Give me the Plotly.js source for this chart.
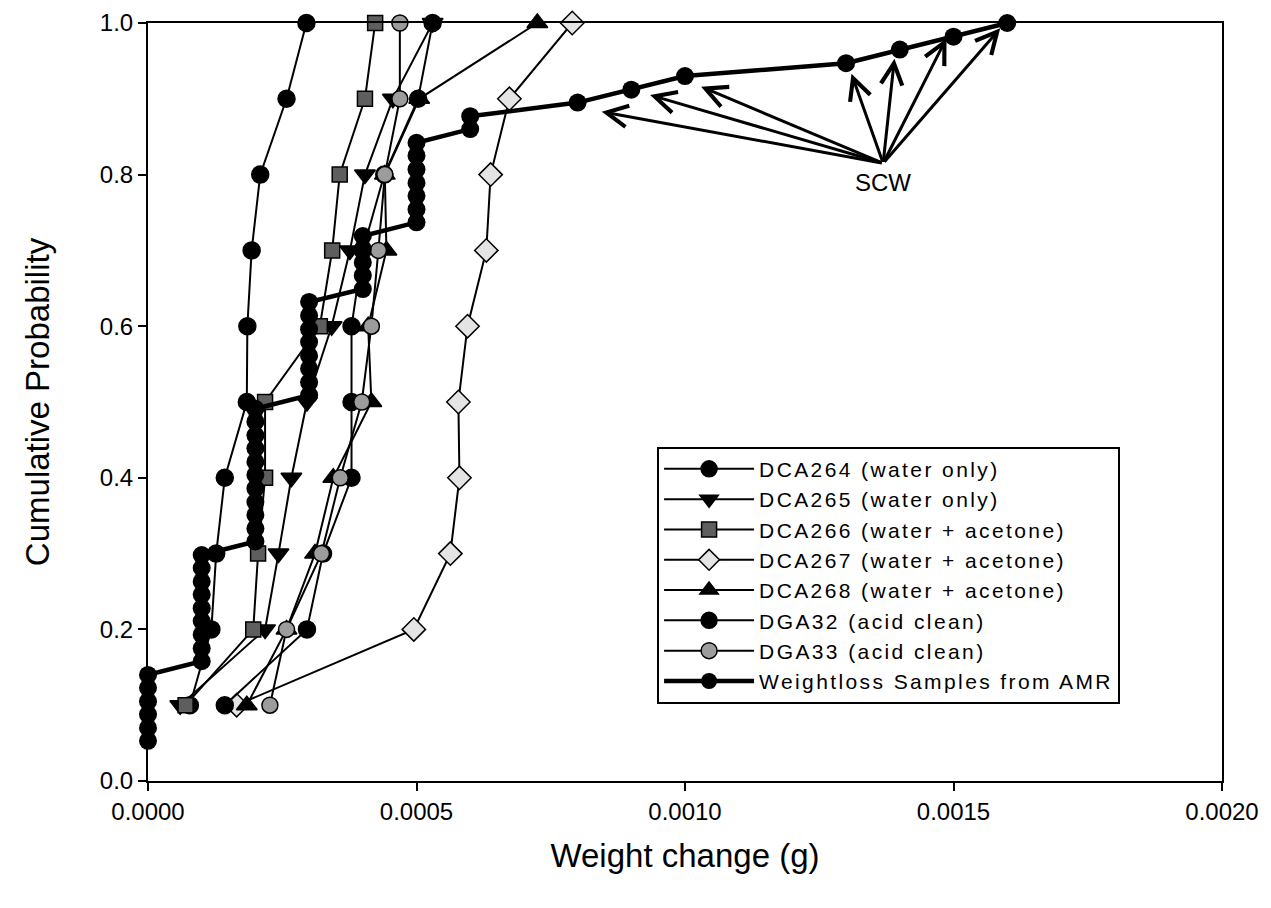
<!DOCTYPE html>
<html>
<head>
<meta charset="utf-8">
<script src="https://cdn.plot.ly/plotly-3.0.1.min.js"></script>
<style>
  html, body { margin: 0; padding: 0; background: #ffffff; }
  #chart { width: 1271px; height: 908px; }
  .legendtext { letter-spacing: 2.4px; }
</style>
</head>
<body>
<div id="chart"></div>
<script>
// ---- Data ----
const probLevels = [0.1, 0.2, 0.3, 0.4, 0.5, 0.6, 0.7, 0.8, 0.9, 1.0];

const dca264X = [0.000078, 0.000118, 0.000127, 0.000143, 0.000184, 0.000185, 0.000193, 0.000209, 0.000258, 0.000295];
const dca265X = [0.000060, 0.000218, 0.000243, 0.000267, 0.000296, 0.000342, 0.000376, 0.000404, 0.000456, 0.000530];
const dca266X = [0.000070, 0.000196, 0.000205, 0.000218, 0.000218, 0.000320, 0.000343, 0.000357, 0.000404, 0.000423];
const dca267X = [0.000165, 0.000495, 0.000563, 0.000580, 0.000578, 0.000595, 0.000630, 0.000638, 0.000673, 0.000790];
const dca268X = [0.000184, 0.000258, 0.000311, 0.000345, 0.000416, 0.000410, 0.000444, 0.000441, 0.000505, 0.000725];
const dga32X  = [0.000143, 0.000296, 0.000326, 0.000379, 0.000379, 0.000379, 0.000400, 0.000440, 0.000503, 0.000530];
const dga33X  = [0.000227, 0.000258, 0.000323, 0.000358, 0.000398, 0.000416, 0.000429, 0.000441, 0.000469, 0.000469];

const amrX = [
  0, 0, 0, 0, 0, 0,
  0.0001, 0.0001, 0.0001, 0.0001, 0.0001, 0.0001, 0.0001, 0.0001, 0.0001,
  0.0002, 0.0002, 0.0002, 0.0002, 0.0002, 0.0002, 0.0002, 0.0002, 0.0002, 0.0002, 0.0002,
  0.0003, 0.0003, 0.0003, 0.0003, 0.0003, 0.0003, 0.0003, 0.0003,
  0.0004, 0.0004, 0.0004, 0.0004, 0.0004,
  0.0005, 0.0005, 0.0005, 0.0005, 0.0005, 0.0005, 0.0005,
  0.0006, 0.0006,
  0.0008, 0.0009, 0.0010, 0.0013, 0.0014, 0.0015, 0.0016
];
const amrY = [
  0.053, 0.070, 0.088, 0.105, 0.123, 0.140,
  0.158, 0.175, 0.193, 0.211, 0.228, 0.246, 0.263, 0.281, 0.298,
  0.316, 0.333, 0.351, 0.368, 0.386, 0.404, 0.421, 0.439, 0.456, 0.474, 0.491,
  0.509, 0.526, 0.544, 0.561, 0.579, 0.596, 0.614, 0.632,
  0.649, 0.667, 0.684, 0.702, 0.719,
  0.737, 0.754, 0.772, 0.789, 0.807, 0.825, 0.842,
  0.860, 0.877,
  0.895, 0.912, 0.930, 0.947, 0.965, 0.982, 1.000
];

// SCW annotation: arrow tips (pointing at the AMR points) and common tail
const scwTipX = [0.000845, 0.000935, 0.00103, 0.00131, 0.00139, 0.001487, 0.001587];
const scwTipY = [0.883, 0.905, 0.916, 0.933, 0.953, 0.980, 0.993];
const scwTail = [0.001369, 0.815];
const scwLabel = "SCW";

const seriesNames = [
  "DCA264 (water only)",
  "DCA265 (water only)",
  "DCA266 (water + acetone)",
  "DCA267 (water + acetone)",
  "DCA268 (water + acetone)",
  "DGA32 (acid clean)",
  "DGA33 (acid clean)",
  "Weightloss Samples from AMR"
];

const xTickVals = [0, 0.0005, 0.0010, 0.0015, 0.0020];
const yTickVals = [0.0, 0.2, 0.4, 0.6, 0.8, 1.0];

// ---- Build traces ----
const FONT = "Arial, 'Liberation Sans', sans-serif";
function sampleTrace(name, xs, symbol, fill, size) {
  return {
    type: "scatter", mode: "lines+markers", name: name,
    x: xs, y: probLevels, cliponaxis: false,
    line: { color: "#000000", width: 2 },
    marker: { symbol: symbol, size: size, color: fill, line: { color: "#000000", width: 1.5 } }
  };
}

const traces = [
  sampleTrace(seriesNames[0], dca264X, "circle", "#000000", 17),
  sampleTrace(seriesNames[1], dca265X, "triangle-down", "#000000", 18),
  sampleTrace(seriesNames[2], dca266X, "square", "#5e5e5e", 15),
  sampleTrace(seriesNames[3], dca267X, "diamond", "#e4e4e4", 18),
  sampleTrace(seriesNames[4], dca268X, "triangle-up", "#000000", 18),
  sampleTrace(seriesNames[5], dga32X, "circle", "#000000", 17),
  sampleTrace(seriesNames[6], dga33X, "circle", "#9c9c9c", 16),
  {
    type: "scatter", mode: "lines+markers", name: seriesNames[7],
    x: amrX, y: amrY, cliponaxis: false,
    line: { color: "#000000", width: 4.5 },
    marker: { symbol: "circle", size: 18, color: "#000000" }
  }
];

const annotations = scwTipX.map((tx, i) => ({
  x: tx, y: scwTipY[i], xref: "x", yref: "y",
  ax: scwTail[0], ay: scwTail[1], axref: "x", ayref: "y",
  showarrow: true, arrowhead: 5, arrowsize: 1.4, arrowwidth: 3, arrowcolor: "#000000",
  text: ""
}));
annotations.push({
  x: scwTail[0], y: scwTail[1], xref: "x", yref: "y",
  text: scwLabel, showarrow: false, yanchor: "top", yshift: -4,
  font: { family: FONT, size: 24, color: "#000000" }
});

const layout = {
  width: 1271, height: 908,
  margin: { l: 148, r: 49, t: 23, b: 127 },
  paper_bgcolor: "#ffffff", plot_bgcolor: "#ffffff",
  font: { family: FONT, color: "#000000", size: 24 },
  showlegend: true,
  legend: {
    x: 0.474, y: 0.441, xanchor: "left", yanchor: "top",
    bgcolor: "#ffffff", bordercolor: "#000000", borderwidth: 2,
    font: { family: FONT, size: 21, color: "#000000" },
    itemwidth: 90,
    tracegroupgap: 0
  },
  xaxis: {
    range: [0, 0.002], tickvals: xTickVals, tickformat: ".4f",
    showgrid: false, zeroline: false, showline: true, mirror: true,
    linecolor: "#000000", linewidth: 2,
    ticks: "outside", ticklen: 8, tickwidth: 2, tickcolor: "#000000",
    tickfont: { family: FONT, size: 24 },
    title: { text: "Weight change (g)", font: { family: FONT, size: 33 }, standoff: 20 }
  },
  yaxis: {
    range: [0, 1], tickvals: yTickVals, tickformat: ".1f",
    showgrid: false, zeroline: false, showline: true, mirror: true,
    linecolor: "#000000", linewidth: 2,
    ticks: "outside", ticklen: 8, tickwidth: 2, tickcolor: "#000000",
    tickfont: { family: FONT, size: 24 },
    title: { text: "Cumulative Probability", font: { family: FONT, size: 33 }, standoff: 40 }
  },
  annotations: annotations
};

Plotly.newPlot("chart", traces, layout, { displayModeBar: false, staticPlot: true });
</script>
</body>
</html>
